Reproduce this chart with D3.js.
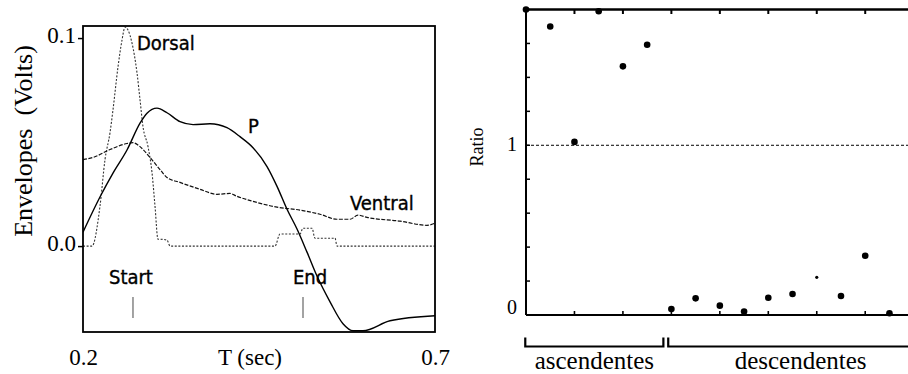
<!DOCTYPE html>
<html>
<head>
<meta charset="utf-8">
<script src="https://cdn.jsdelivr.net/npm/d3@7"></script>
<style>
body { margin: 0; background: #fff; }
svg { display: block; }
.serif { font-family: "Liberation Serif", "Times New Roman", serif; fill: #000; }
.sans { font-family: "DejaVu Sans Condensed", "DejaVu Sans", sans-serif; font-stretch: condensed; fill: #000; stroke: #000; stroke-width: 0.35; }
</style>
</head>
<body>
<script>
// left panel: envelopes over time
var dorsalT = [0.2, 0.2128, 0.2241, 0.2313, 0.2384, 0.2426, 0.2497, 0.2554, 0.2597, 0.2639, 0.2696, 0.2767, 0.281, 0.2852, 0.2923, 0.298, 0.3023, 0.3065, 0.3094, 0.3193, 0.3236, 0.4727, 0.4798, 0.5082, 0.5125, 0.5253, 0.5295, 0.558, 0.5608, 0.7];
var dorsalV = [0, 0, 0.0191, 0.0417, 0.0546, 0.0655, 0.0861, 0.099, 0.1053, 0.1039, 0.0976, 0.0833, 0.0703, 0.0575, 0.0479, 0.0354, 0.0191, 0.0033, 0.0033, 0.0029, 0, 0, 0.0058, 0.0058, 0.0086, 0.0086, 0.0038, 0.0038, 0, 0];

var pT = [0.2, 0.2241, 0.2426, 0.2625, 0.281, 0.2909, 0.3051, 0.3193, 0.3378, 0.3563, 0.3804, 0.4045, 0.423, 0.4415, 0.4614, 0.4756, 0.4898, 0.504, 0.5182, 0.5324, 0.5509, 0.5693, 0.5835, 0.5977, 0.6361, 0.7];
var pV = [0.0067, 0.0236, 0.0351, 0.0462, 0.0591, 0.0639, 0.0663, 0.0641, 0.0598, 0.0584, 0.0588, 0.0569, 0.0526, 0.0473, 0.0382, 0.0287, 0.0177, 0.0082, -0.0029, -0.0144, -0.0268, -0.0373, -0.0407, -0.0407, -0.0359, -0.0335];

var ventralT = [0.2, 0.2142, 0.2384, 0.2625, 0.271, 0.281, 0.2952, 0.3094, 0.3193, 0.3378, 0.3662, 0.3903, 0.4088, 0.4188, 0.4415, 0.4756, 0.5082, 0.5366, 0.5608, 0.5793, 0.5906, 0.6034, 0.6503, 0.6886, 0.7];
var ventralV = [0.0416, 0.0426, 0.0464, 0.0493, 0.0497, 0.0478, 0.0426, 0.0368, 0.033, 0.0306, 0.0273, 0.0249, 0.0253, 0.0239, 0.0215, 0.0187, 0.0173, 0.0153, 0.0129, 0.0129, 0.0149, 0.0138, 0.012, 0.01, 0.011];

var markNames = ["Start", "End"];
var markTimes = [0.271, 0.5125];

var leftYTicks = [0, 0.1];
var leftXTicks = [0.2, 0.7];

// right panel: ratio per trial
var ratios = [1.8, 1.7, 1.02, 1.79, 1.465, 1.592, 0.035, 0.098, 0.055, 0.02, 0.102, 0.124, 0.222, 0.112, 0.349, 0.01];
var groupNames = ["ascendentes", "descendentes"];
var groupFrom = [-0.03, 5.87];
var groupTo = [5.67, 16.8];
var ratioLabels = [0, 1];

var W = 908, H = 374;
var svg = d3.select("body").append("svg").attr("width", W).attr("height", H);
svg.append("rect").attr("width", W).attr("height", H).attr("fill", "#fff");

// ---------- left ----------
var L = {left: 83, right: 435, top: 26, bottom: 332};
var xL = d3.scaleLinear().domain([0.2, 0.7]).range([L.left, L.right]);
var yL = d3.scaleLinear().domain([-0.0413, 0.1058]).range([L.bottom, L.top]);

var line = d3.line()
	.x(function(d){ return xL(d[0]); })
	.y(function(d){ return yL(d[1]); })
	.curve(d3.curveMonotoneX);

function pairs(t, v){ return t.map(function(d, i){ return [d, v[i]]; }); }

svg.append("clipPath").attr("id", "clipL")
	.append("rect").attr("x", L.left).attr("y", L.top)
	.attr("width", L.right - L.left).attr("height", L.bottom - L.top);

var plot = svg.append("g").attr("clip-path", "url(#clipL)");

plot.append("path").datum(pairs(dorsalT, dorsalV))
	.attr("d", line).attr("fill", "none").attr("stroke", "#333")
	.attr("stroke-width", 1.1).attr("stroke-dasharray", "2,1.6");

plot.append("path").datum(pairs(ventralT, ventralV))
	.attr("d", line).attr("fill", "none").attr("stroke", "#111")
	.attr("stroke-width", 1.2).attr("stroke-dasharray", "4,1.5");

plot.append("path").datum(pairs(pT, pV))
	.attr("d", line).attr("fill", "none").attr("stroke", "#000")
	.attr("stroke-width", 1.4);

svg.append("rect")
	.attr("x", L.left).attr("y", L.top)
	.attr("width", L.right - L.left).attr("height", L.bottom - L.top)
	.attr("fill", "none").attr("stroke", "#000").attr("stroke-width", 1.8);

var yAxisL = svg.append("g")
	.attr("transform", "translate(" + L.left + ",0)")
	.call(d3.axisLeft(yL).tickValues(leftYTicks).tickFormat(d3.format(".1f")).tickSize(5).tickPadding(2));
yAxisL.select(".domain").remove();
yAxisL.selectAll("line").attr("stroke", "#000").attr("stroke-width", 1.5);
yAxisL.selectAll("text").attr("class", "serif").attr("font-size", 23).attr("dy", "0.2em");

var xAxisL = svg.append("g")
	.attr("transform", "translate(0," + L.bottom + ")")
	.call(d3.axisBottom(xL).tickValues(leftXTicks).tickFormat(d3.format(".1f")).tickSize(0).tickPadding(17));
xAxisL.select(".domain").remove();
xAxisL.selectAll("text").attr("class", "serif").attr("font-size", 23);

svg.append("text").attr("class", "serif").attr("font-size", 23)
	.attr("x", 250).attr("y", 365).attr("text-anchor", "middle").text("T (sec)");

svg.append("text").attr("class", "serif").attr("font-size", 26)
	.attr("transform", "translate(32,141) rotate(-90)")
	.attr("text-anchor", "middle").attr("xml:space", "preserve").text("Envelopes  (Volts)");

// series labels
var seriesLabels = [["Dorsal", 137, 50], ["P", 248, 133], ["Ventral", 350, 210]];
svg.selectAll("text.series").data(seriesLabels).enter().append("text")
	.attr("class", "sans series").attr("font-size", 20)
	.attr("x", function(d){ return d[1]; })
	.attr("y", function(d){ return d[2]; })
	.text(function(d){ return d[0]; });

// start / end markers
svg.selectAll("line.mark").data(markTimes).enter().append("line")
	.attr("class", "mark")
	.attr("x1", function(d){ return xL(d); }).attr("x2", function(d){ return xL(d); })
	.attr("y1", 297).attr("y2", 318)
	.attr("stroke", "#666").attr("stroke-width", 1.2);

svg.selectAll("text.mark").data(markNames).enter().append("text")
	.attr("class", "sans mark").attr("font-size", 20)
	.attr("x", function(d, i){ return xL(markTimes[i]) + (i === 0 ? -24 : -10); })
	.attr("y", 284)
	.text(function(d){ return d; });

// ---------- right ----------
var R = {left: 526, top: 9.5, bottom: 315};
var xR = d3.scaleLinear().domain([0, 16]).range([R.left, R.left + 16 * 24.23]);
var yR = d3.scaleLinear().domain([0, 1.8]).range([R.bottom, R.top]);

// reference line at ratio 1
svg.append("line")
	.attr("x1", R.left).attr("x2", W).attr("y1", yR(1)).attr("y2", yR(1))
	.attr("stroke", "#000").attr("stroke-width", 1).attr("stroke-dasharray", "3,2");

// frame lines
svg.append("line").attr("x1", R.left).attr("x2", W).attr("y1", R.top).attr("y2", R.top)
	.attr("stroke", "#000").attr("stroke-width", 2.6);
svg.append("line").attr("x1", R.left).attr("x2", W).attr("y1", R.bottom).attr("y2", R.bottom)
	.attr("stroke", "#000").attr("stroke-width", 2);
svg.append("line").attr("x1", R.left).attr("x2", R.left).attr("y1", R.top).attr("y2", R.bottom)
	.attr("stroke", "#000").attr("stroke-width", 2);

// inward ticks
var xTicksR = d3.range(0, 16, 2);
svg.selectAll("line.tt").data(xTicksR).enter().append("line").attr("class", "tt")
	.attr("x1", function(d){ return xR(d); }).attr("x2", function(d){ return xR(d); })
	.attr("y1", R.top).attr("y2", R.top + 4.5)
	.attr("stroke", "#000").attr("stroke-width", 2);
svg.selectAll("line.bt").data(xTicksR).enter().append("line").attr("class", "bt")
	.attr("x1", function(d){ return xR(d); }).attr("x2", function(d){ return xR(d); })
	.attr("y1", R.bottom).attr("y2", R.bottom - 4)
	.attr("stroke", "#000").attr("stroke-width", 1.6);
svg.selectAll("line.lt").data(yR.ticks(9)).enter().append("line").attr("class", "lt")
	.attr("x1", R.left).attr("x2", R.left + 4)
	.attr("y1", function(d){ return yR(d); }).attr("y2", function(d){ return yR(d); })
	.attr("stroke", "#000").attr("stroke-width", 1.5);

svg.selectAll("text.rl").data(ratioLabels).enter().append("text")
	.attr("class", "serif rl").attr("font-size", 20).attr("text-anchor", "end")
	.attr("x", 517)
	.attr("y", function(d){ return yR(d) + (d === 0 ? -1 : 6); })
	.text(function(d){ return d; });

svg.append("text").attr("class", "serif").attr("font-size", 18)
	.attr("transform", "translate(483,147) rotate(-90)")
	.attr("text-anchor", "middle").text("Ratio");

// points
svg.selectAll("circle").data(ratios).enter().append("circle")
	.attr("cx", function(d, i){ return xR(i); })
	.attr("cy", function(d){ return yR(d); })
	.attr("r", function(d, i){ return i === 12 ? 1.6 : 3.3; })
	.attr("fill", "#000");

// group brackets
var by = 346.5;
groupNames.forEach(function(name, i){
	var x0 = xR(groupFrom[i]), x1 = xR(groupTo[i]);
	svg.append("path")
		.attr("d", "M" + x0 + "," + (by - 9) + "V" + by + "H" + x1 + (x1 < W ? "V" + (by - 9) : ""))
		.attr("fill", "none").attr("stroke", "#000").attr("stroke-width", 2.2);
	svg.append("text").attr("class", "serif").attr("font-size", 25)
		.attr("x", (x0 + x1) / 2).attr("y", 368.5).attr("text-anchor", "middle")
		.text(name);
});
</script>
</body>
</html>
